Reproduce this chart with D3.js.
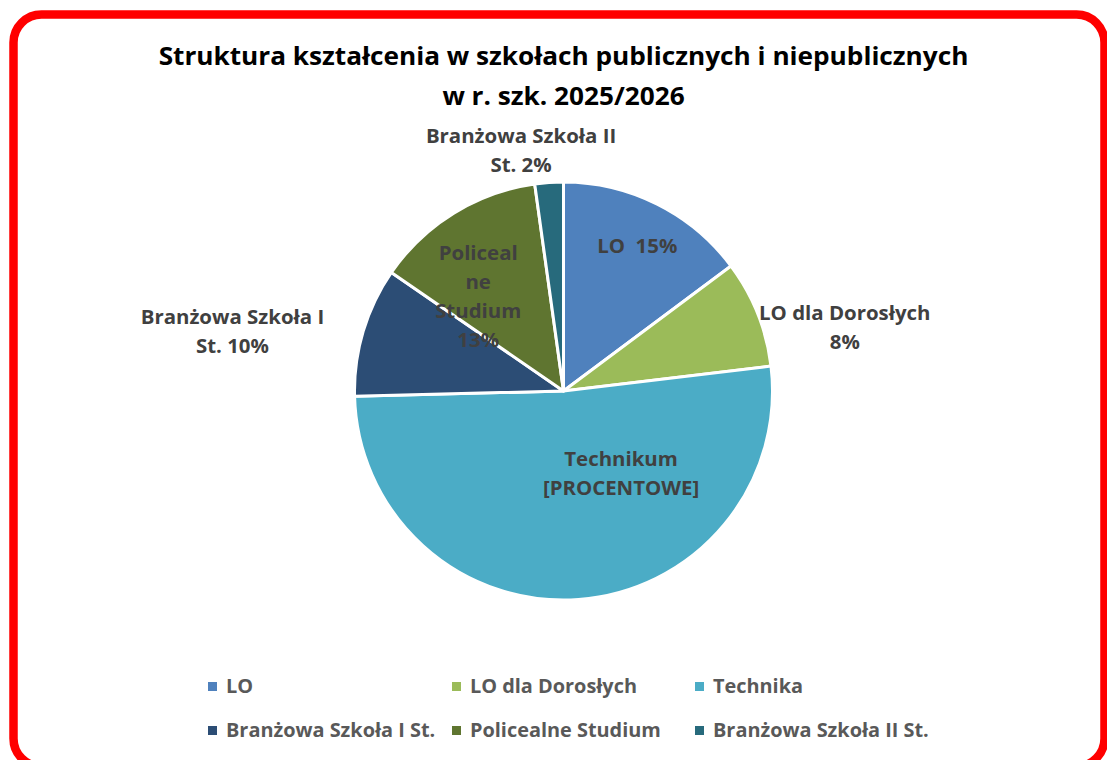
<!DOCTYPE html>
<html><head><meta charset="utf-8">
<script src="https://cdn.jsdelivr.net/npm/d3@7/dist/d3.min.js"></script>
<style>
html,body{margin:0;padding:0;background:#fff;}
text{font-family:"Open Sans","Noto Sans",sans-serif;font-weight:bold;white-space:pre;}
</style></head>
<body>
<svg id="chart" width="1107" height="760"></svg>
<script>
// ---- data ----
const categories = ["LO", "LO dla Dorosłych", "Technika", "Branżowa Szkoła I St.", "Policealne Studium", "Branżowa Szkoła II St."];
const values = [14.8, 8.3, 51.5, 10.0, 13.2, 2.2];
const colors = ["#4F81BD", "#9BBB59", "#4BACC6", "#2C4D75", "#5F7530", "#276A7C"];
const labelLines = [
  ["LO  15%"],
  ["LO dla Dorosłych", "8%"],
  ["Technikum", "[PROCENTOWE]"],
  ["Branżowa Szkoła I", "St. 10%"],
  ["Policeal", "ne", "Studium", "13%"],
  ["Branżowa Szkoła II", "St. 2%"]
];
const titleLines = ["Struktura kształcenia w szkołach publicznych i niepublicznych", "w r. szk. 2025/2026"];

// ---- layout ----
const W = 1107, H = 760;
const cx = 563.5, cy = 391, R = 209;
// label anchor: [angle in degrees clockwise from top, distance as fraction of R]
const labelAnchor = [[26.9, 0.78], [77.2, 1.38], [145, 0.48], [280.3, 1.61], [318, 0.61], [350, 1.17]];
const labelLineH = 29;
const legendCols = [226, 470, 713];
const legendRows = [693, 737];

const svg = d3.select("#chart");

// border
svg.append("rect").attr("x", 13.5).attr("y", 14.5).attr("width", 1091).attr("height", 752)
  .attr("rx", 28).attr("ry", 28).attr("fill", "#fff").attr("stroke", "#FF0000").attr("stroke-width", 8.5);

// helper: text condensed horizontally around its anchor x
const texts = [];
function addText(parent, x, y, str, size, fill, anchor) {
  const g = parent.append("g");
  const t = g.append("text").attr("x", 0).attr("y", y).attr("text-anchor", anchor)
    .attr("fill", fill).style("font-size", size + "px").text(str);
  texts.push({g, x});
  return t;
}

// title
const titleNodes = titleLines.map((t, i) => addText(svg, cx, 65 + i * 40, t, 25, "#000", "middle"));

const pie = d3.pie().sort(null).value(d => d);
const arcs = pie(values);
const arc = d3.arc().innerRadius(0).outerRadius(R);

const g = svg.append("g").attr("transform", `translate(${cx},${cy})`);
g.selectAll("path.slice").data(arcs).enter().append("path")
  .attr("class", "slice")
  .attr("d", arc)
  .attr("fill", (d, i) => colors[i])
  .attr("stroke", "#fff").attr("stroke-width", 3).attr("stroke-linejoin", "round");

// data labels
const labelG = svg.append("g");
arcs.forEach((a, i) => {
  const ang = labelAnchor[i][0] * Math.PI / 180;
  const r = labelAnchor[i][1] * R;
  const x = cx + r * Math.sin(ang);
  const y = cy - r * Math.cos(ang);
  const lines = labelLines[i];
  const y0 = y - (lines.length - 1) * labelLineH / 2 + 7.5;
  lines.forEach((ln, j) => addText(labelG, x, y0 + j * labelLineH, ln, 19.5, "#404040", "middle"));
});

// legend
const legend = svg.append("g");
categories.forEach((c, i) => {
  const col = i % 3, row = Math.floor(i / 3);
  const x = legendCols[col], y = legendRows[row];
  legend.append("rect").attr("x", x - 18).attr("y", y - 11).attr("width", 9).attr("height", 9).attr("fill", colors[i]);
  addText(legend, x, y, c, 19, "#595959", "start");
});

// condense Open Sans to Calibri-like widths, calibrated on the title's first line
const k = 810 / titleNodes[0].node().getComputedTextLength();
texts.forEach(({g, x}) => g.attr("transform", `translate(${x},0) scale(${k},1)`));
</script>
</body></html>
